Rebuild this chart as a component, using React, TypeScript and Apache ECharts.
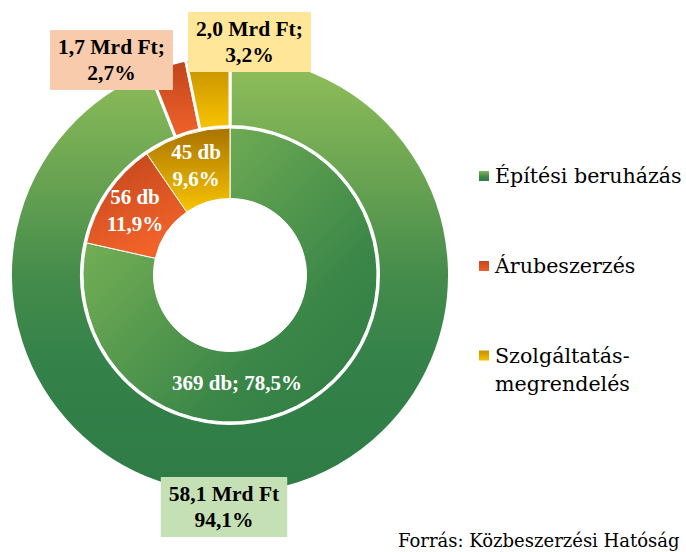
import React, { useEffect, useRef } from "react";
import * as echarts from "echarts";

const categories = ["Építési beruházás", "Árubeszerzés", "Szolgáltatás-megrendelés"];
const countDb = [369, 56, 45];
const countPct = [78.5, 11.9, 9.6];
const valueMrd = [58.1, 1.7, 2.0];
const valuePct = [94.1, 2.7, 3.2];
const sourceText = "Forrás: Közbeszerzési Hatóság";

const fmt = (v: number) => v.toFixed(1).replace(".", ",");

const LG = (x: number, y: number, x2: number, y2: number, stops: [number, string][]) =>
  new echarts.graphic.LinearGradient(
    x,
    y,
    x2,
    y2,
    stops.map(([offset, color]) => ({ offset, color }))
  );

const outerColors = [
  LG(0, 0, 0, 1, [
    [0, "#92c05a"],
    [0.28, "#69a352"],
    [0.5, "#458c4b"],
    [0.7, "#34824a"],
    [1, "#2e7b45"],
  ]),
  LG(0, 0, 0, 1, [
    [0, "#c0451c"],
    [1, "#f0622a"],
  ]),
  LG(0, 0, 0, 1, [
    [0, "#c08b00"],
    [1, "#fac400"],
  ]),
];

const innerColors = [
  LG(0, 0, 1, 1, [
    [0, "#86bc5a"],
    [0.3, "#68a652"],
    [0.7, "#3a8648"],
    [1, "#2e7b44"],
  ]),
  LG(0, 0, 0.4, 1, [
    [0, "#bf441c"],
    [1, "#f2632a"],
  ]),
  LG(0, 0, 0, 1, [
    [0, "#a87300"],
    [1, "#f8c400"],
  ]),
];

const boxColors = ["#c5e0b4", "#f8cbad", "#ffe699"];
const outerLabelPos: [number, number][] = [
  [224, 507],
  [111.5, 60],
  [249.5, 42],
];
const innerMainLabelPos: [number, number] = [237, 383];
const legendTops = [164, 254, 313.5];

export default function App() {
  const ref = useRef<HTMLDivElement>(null);

  useEffect(() => {
    if (!ref.current) return;
    const chart = echarts.init(ref.current, undefined, { renderer: "svg" });

    const legendFont = {
      fontFamily: "DejaVu Serif",
      fontSize: 20.6,
      color: "#000",
    };

    const option: any = {
      animation: false,
      backgroundColor: "#fff",
      legend: categories.map((name, i) => ({
        data: [name],
        orient: "vertical",
        left: 477,
        top: legendTops[i],
        padding: 0,
        itemWidth: 12,
        itemHeight: 12,
        icon: "rect",
        selectedMode: false,
        formatter: (n: string) =>
          n === "Szolgáltatás-megrendelés" ? "\nSzolgáltatás-\nmegrendelés" : n,
        textStyle:
          i === 2 ? { ...legendFont, lineHeight: 28 } : { ...legendFont, lineHeight: 24 },
      })),
      graphic: [
        {
          type: "text",
          left: 398,
          top: 531,
          style: {
            text: sourceText,
            font: '18px "DejaVu Serif"',
            fill: "#000",
          },
        },
      ],
      series: [
        {
          type: "pie",
          name: "Érték",
          center: [230, 275],
          radius: [148.5, 219.5],
          startAngle: 90,
          clockwise: true,
          avoidLabelOverlap: false,
          emphasis: { disabled: true },
          itemStyle: { borderColor: "#fff", borderWidth: 3 },
          labelLine: { show: false },
          label: {
            show: true,
            position: "inside",
            color: "#000",
            fontFamily: "Liberation Serif",
            fontWeight: "bold",
            fontSize: 21.5,
            lineHeight: 26,
            padding: [4, 8, 4, 8],
            align: "center",
            formatter: (p: any) =>
              p.dataIndex === 0
                ? `${fmt(valueMrd[p.dataIndex])} Mrd Ft\n${fmt(valuePct[p.dataIndex])}%`
                : `${fmt(valueMrd[p.dataIndex])} Mrd Ft;\n${fmt(valuePct[p.dataIndex])}%`,
          },
          labelLayout: (p: any) => ({
            x: outerLabelPos[p.dataIndex][0],
            y: outerLabelPos[p.dataIndex][1],
            align: "center",
            verticalAlign: "middle",
          }),
          data: categories.map((name, i) => ({
            name,
            value: valueMrd[i],
            itemStyle: { color: outerColors[i] },
            label: { backgroundColor: boxColors[i] },
          })),
        },
        {
          type: "pie",
          name: "Darab",
          center: [230, 275],
          radius: [76.5, 147],
          startAngle: 90,
          clockwise: true,
          avoidLabelOverlap: false,
          emphasis: { disabled: true },
          itemStyle: { borderColor: "#fff", borderWidth: 1 },
          labelLine: { show: false },
          label: {
            show: true,
            position: "inside",
            color: "#fff",
            fontFamily: "Liberation Serif",
            fontWeight: "bold",
            fontSize: 21,
            lineHeight: 27,
            align: "center",
            formatter: (p: any) =>
              p.dataIndex === 0
                ? `${countDb[p.dataIndex]} db; ${fmt(countPct[p.dataIndex])}%`
                : `${countDb[p.dataIndex]} db\n${fmt(countPct[p.dataIndex])}%`,
          },
          labelLayout: (p: any) =>
            p.dataIndex === 0
              ? {
                  x: innerMainLabelPos[0],
                  y: innerMainLabelPos[1],
                  align: "center",
                  verticalAlign: "middle",
                }
              : {},
          data: categories.map((name, i) => ({
            name,
            value: countDb[i],
            itemStyle: { color: innerColors[i] },
          })),
        },
      ],
    };

    chart.setOption(option);
    return () => chart.dispose();
  }, []);

  return (
    <div
      ref={ref}
      style={{ position: "fixed", left: 0, top: 0, width: 686, height: 552 }}
    />
  );
}
